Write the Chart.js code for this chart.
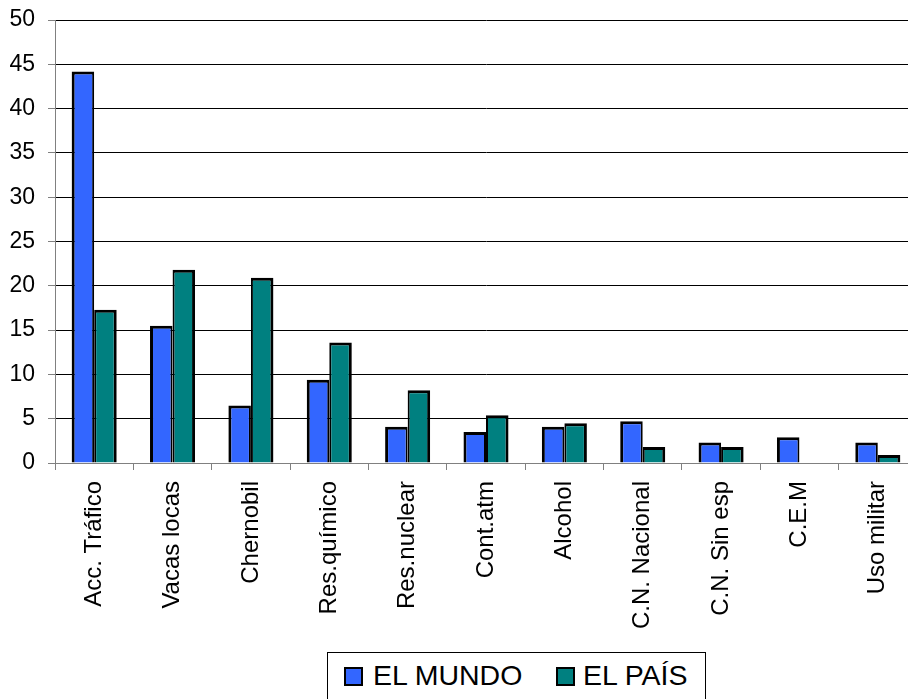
<!DOCTYPE html>
<html>
<head>
<meta charset="utf-8">
<script src="https://cdn.jsdelivr.net/npm/chart.js@4.4.1/dist/chart.umd.min.js"></script>
<style>
  html, body { margin:0; padding:0; background:#fff; overflow:hidden; width:908px; height:699px; }
  #wrap { position:absolute; left:0; top:0; width:917px; height:699px; }
  #legend { position:absolute; left:327px; top:652px; width:377px; height:60px; border:1px solid #000; background:#fff;
            font-family:"Liberation Sans", Arial, sans-serif; font-size:28.5px; color:#000; }
  .box { position:absolute; top:14px; width:15px; height:15px; border:2px solid #000; }
  .lbl { position:absolute; top:8px; line-height:29px; white-space:nowrap; }
</style>
</head>
<body>
<div id="wrap"><canvas id="c" width="917" height="699"></canvas></div>
<div id="legend">
  <div class="box" id="b1" style="left:16px;"></div><div class="lbl" id="l1" style="left:45px;"></div>
  <div class="box" id="b2" style="left:228px;"></div><div class="lbl" id="l2" style="left:255px;"></div>
</div>
<script>
const categories = ["Acc. Tráfico","Vacas locas","Chernobil","Res.químico","Res.nuclear","Cont.atm","Alcohol","C.N. Nacional","C.N. Sin esp","C.E.M","Uso militar"];
const seriesNames = ["EL MUNDO","EL PAÍS"];
const elMundo = [44.2, 15.5, 6.5, 9.4, 4.1, 3.5, 4.1, 4.7, 2.3, 2.9, 2.3];
const elPais  = [17.3, 21.8, 20.9, 13.6, 8.2, 5.4, 4.5, 1.8, 1.8, null, 0.9];
const yMin = 0, yMax = 50, yStep = 5;

const colors = ["#3366FF", "#008080"];
document.getElementById('b1').style.background = colors[0];
document.getElementById('b2').style.background = colors[1];
document.getElementById('l1').textContent = seriesNames[0];
document.getElementById('l2').textContent = seriesNames[1];

const FONT = "'Liberation Sans', Arial, sans-serif";

new Chart(document.getElementById('c'), {
  type: 'bar',
  data: {
    labels: categories,
    datasets: [
      { label: seriesNames[0], data: elMundo, backgroundColor: colors[0], borderColor: '#000',
        borderWidth: {top:3, left:3, right:2, bottom:0}, borderSkipped: 'start',
        categoryPercentage: 0.575, barPercentage: 1.0 },
      { label: seriesNames[1], data: elPais, backgroundColor: colors[1], borderColor: '#000',
        borderWidth: {top:3, left:2, right:3, bottom:0}, borderSkipped: 'start',
        categoryPercentage: 0.575, barPercentage: 1.0 }
    ]
  },
  options: {
    responsive: false,
    animation: false,
    devicePixelRatio: 1,
    layout: { padding: { top: 20, right: 0, left: 0, bottom: 0 } },
    plugins: { legend: { display: false }, tooltip: { enabled: false } },
    scales: {
      x: {
        offset: true,
        border: { display: true, color: '#808080', width: 1 },
        grid: { display: true, drawOnChartArea: false, drawTicks: true, tickLength: 7, tickColor: '#808080', offset: true },
        ticks: { autoSkip: false, maxRotation: 90, minRotation: 90, padding: 11, color: '#000',
                 font: { family: FONT, size: 24 } },
        afterFit: s => { s.height = 236; s.paddingLeft = 0; s.paddingRight = 0; }
      },
      y: {
        min: yMin, max: yMax,
        border: { display: true, color: '#808080', width: 1 },
        grid: { color: ctx => (ctx.tick && ctx.tick.value === 0) ? '#808080' : '#000', lineWidth: 1,
                drawTicks: true, tickLength: 7, tickColor: '#808080' },
        ticks: { stepSize: yStep, padding: 13, color: '#000', font: { family: FONT, size: 23 } },
        afterFit: s => { s.width = 55; s.paddingTop = 0; s.paddingBottom = 0; }
      }
    }
  }
});
</script>
</body>
</html>
